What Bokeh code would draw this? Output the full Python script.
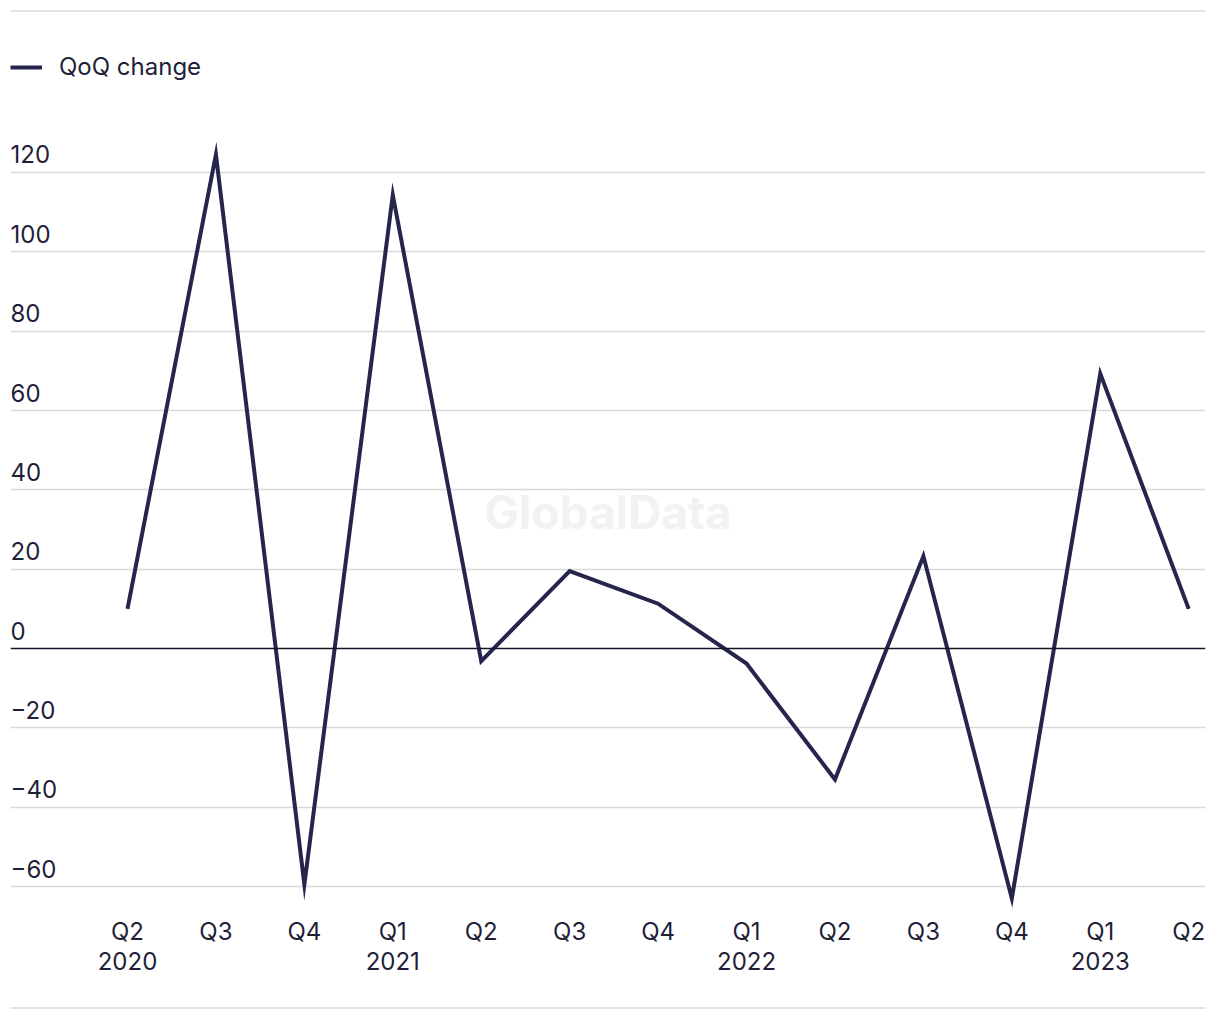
from bokeh.plotting import figure
from bokeh.models import ColumnDataSource, Span, Legend, LegendItem, Range1d, FixedTicker
from bokeh.core.properties import value
from bokeh.embed import file_html
from bokeh.resources import INLINE

# ---- data ----
quarters = ["Q2", "Q3", "Q4", "Q1", "Q2", "Q3", "Q4", "Q1", "Q2", "Q3", "Q4", "Q1", "Q2"]
years = ["2020", "", "", "2021", "", "", "", "2022", "", "", "", "2023", ""]
qoq_change = [10.0, 124.5, -59.5, 114.3, -3.2, 19.5, 11.3, -3.8, -33.0, 23.3, -63.0, 69.3, 10.0]
y_ticks = [-60, -40, -20, 0, 20, 40, 60, 80, 100, 120]
y_tick_labels = ["\u221260", "\u221240", "\u221220", "0", "20", "40", "60", "80", "100", "120"]
series_name = "QoQ change"
watermark = "GlobalData"

# ---- styling ----
FONT = "Inter"
TEXT_COLOR = "#1f1f38"
LINE_COLOR = "#25254d"
GRID_COLOR = "#d9d9d9"

W, H = 1212, 1012
X_START, X_END = -1.323, 12.19
Y_START, Y_END = -91.0, 161.09

p = figure(width=W, height=H, output_backend="svg", toolbar_location=None,
           x_range=Range1d(X_START, X_END), y_range=Range1d(Y_START, Y_END),
           min_border_left=10, min_border_right=7, min_border_top=9, min_border_bottom=3,
           tools="")
p.xaxis.visible = False
p.yaxis.visible = False
p.outline_line_color = None
p.xgrid.visible = False
p.ygrid.ticker = FixedTicker(ticks=[t for t in y_ticks if t != 0])
p.ygrid.grid_line_color = GRID_COLOR
p.ygrid.grid_line_width = 1.5
p.background_fill_color = "white"
p.border_fill_color = "white"

# top and bottom frame rules
span_top = Span(location=Y_END - 0.4, dimension="width", line_color=GRID_COLOR, line_width=1.5)
span_bot = Span(location=Y_START + 0.4, dimension="width", line_color=GRID_COLOR, line_width=1.5)
zero = Span(location=0, dimension="width", line_color="#141428", line_width=1.6)
p.add_layout(span_top)
p.add_layout(span_bot)
p.add_layout(zero)

# watermark
p.text(x=[(X_START + X_END) / 2], y=[34.5], text=[watermark],
       text_font=value(FONT), text_font_size="46px", text_font_style="bold",
       text_color="#f2f2f2", text_align="center", text_baseline="middle")

# data line
xs = list(range(len(quarters)))
src = ColumnDataSource(dict(x=xs, y=qoq_change))
r = p.line("x", "y", source=src, line_color=LINE_COLOR, line_width=4, line_join="miter")

# y tick labels (above gridlines, left aligned)
p.text(x=[X_START] * len(y_ticks), y=y_ticks, text=y_tick_labels, y_offset=-9,
       text_font=value(FONT), text_font_size="24px", text_color=TEXT_COLOR,
       text_align="left", text_baseline="bottom")

# x tick labels
xlabels = [q + ("\n" + yv if yv else "") for q, yv in zip(quarters, years)]
p.text(x=xs, y=[-60] * len(xs), y_offset=30, text=xlabels,
       text_font=value(FONT), text_font_size="24px", text_color=TEXT_COLOR,
       text_align="center", text_baseline="top", text_line_height=1.04)

# legend
legend = Legend(items=[LegendItem(label=series_name, renderers=[r])],
                location=(0, 1000 - 72), orientation="horizontal",
                label_text_font=FONT, label_text_font_size="24px", label_text_color=TEXT_COLOR,
                glyph_width=32, glyph_height=26, label_standoff=17,
                padding=0, margin=0, spacing=0,
                border_line_color=None, background_fill_alpha=0)
p.add_layout(legend)

open("out.html", "w").write(file_html(p, INLINE))
